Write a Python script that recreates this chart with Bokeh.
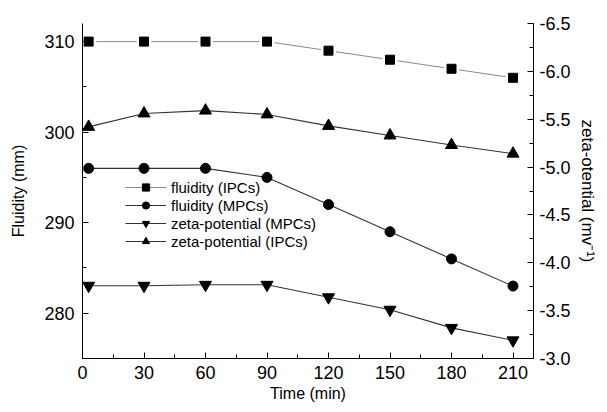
from bokeh.plotting import figure
from bokeh.models import Range1d, LinearAxis, SingleIntervalTicker, PrintfTickFormatter, Legend
from bokeh.embed import file_html
from bokeh.resources import INLINE

# ---- data ----
time_min = [3, 30, 60, 90, 120, 150, 180, 210]
fluidity_ipcs = [310, 310, 310, 310, 309, 308, 307, 306]
fluidity_mpcs = [296, 296, 296, 295, 292, 289, 286, 283]
zeta_mpcs = [-3.76, -3.76, -3.77, -3.77, -3.64, -3.51, -3.32, -3.19]
zeta_ipcs = [-5.42, -5.56, -5.59, -5.55, -5.43, -5.33, -5.23, -5.14]

FONT = "Liberation Sans"

p = figure(width=599, height=404, x_range=Range1d(0, 220), y_range=Range1d(275, 312),
           output_backend="svg", toolbar_location=None,
           min_border_left=82, min_border_right=59, min_border_top=23, min_border_bottom=43)
p.extra_y_ranges = {"zeta": Range1d(start=-3.0, end=-6.5)}
p.grid.visible = False
p.outline_line_color = None
p.background_fill_color = "white"
p.border_fill_color = "white"

def style_axis(ax, standoff, label_standoff, label_size):
    ax.axis_line_color = "black"
    ax.axis_line_width = 1
    ax.major_tick_in = 6
    ax.major_tick_out = 0
    ax.minor_tick_in = 4
    ax.minor_tick_out = 0
    ax.major_tick_line_color = "black"
    ax.minor_tick_line_color = "black"
    ax.major_label_text_font = FONT
    ax.major_label_text_font_size = "18px"
    ax.major_label_text_color = "black"
    ax.major_label_standoff = standoff
    ax.axis_label_text_font = FONT
    ax.axis_label_text_font_size = label_size
    ax.axis_label_text_font_style = "normal"
    ax.axis_label_text_color = "black"
    ax.axis_label_standoff = label_standoff

p.xaxis.ticker = SingleIntervalTicker(interval=30, num_minor_ticks=2)
p.xaxis.axis_label = "Time (min)"
style_axis(p.xaxis[0], 7, 3, "16px")

p.yaxis.ticker = SingleIntervalTicker(interval=10, num_minor_ticks=2)
p.yaxis.axis_label = "Fluidity (mm)"
style_axis(p.yaxis[0], 8, 14, "16px")

right = LinearAxis(y_range_name="zeta", axis_label="zeta-otential (mv\u207b\u00b9)",
                   ticker=SingleIntervalTicker(interval=0.5, num_minor_ticks=2),
                   formatter=PrintfTickFormatter(format="%.1f"))
style_axis(right, 6, 4, "17px")
p.add_layout(right, "right")

dark = "#333333"
l1 = p.line(time_min, fluidity_ipcs, line_color="#8a8a8a", line_width=1)
p.scatter(time_min, fluidity_ipcs, marker="square", size=15, fill_color="white", line_color=None)
m1 = p.scatter(time_min, fluidity_ipcs, marker="square", size=9, fill_color="black", line_color="black")

l2 = p.line(time_min, fluidity_mpcs, line_color=dark, line_width=1.1)
m2 = p.scatter(time_min, fluidity_mpcs, marker="circle", size=10, fill_color="black", line_color="black")

l3 = p.line(time_min, zeta_mpcs, line_color=dark, line_width=1.1, y_range_name="zeta")
m3 = p.scatter(time_min, zeta_mpcs, marker="inverted_triangle", size=12, fill_color="black",
               line_color="black", y_range_name="zeta")

l4 = p.line(time_min, zeta_ipcs, line_color=dark, line_width=1.1, y_range_name="zeta")
m4 = p.scatter(time_min, zeta_ipcs, marker="triangle", size=12, fill_color="black",
               line_color="black", y_range_name="zeta")

legend = Legend(items=[("fluidity (IPCs)", [l1, m1]),
                       ("fluidity (MPCs)", [l2, m2]),
                       ("zeta-potential (MPCs)", [l3, m3]),
                       ("zeta-potential (IPCs)", [l4, m4])],
                location=(43, 108))
legend.padding = 0
legend.margin = 0
legend.spacing = 0
legend.glyph_height = 18
legend.label_height = 18
legend.glyph_width = 41
legend.label_standoff = 5
legend.label_text_font = FONT
legend.label_text_font_size = "15px"
legend.label_text_color = "black"
legend.border_line_color = None
legend.background_fill_alpha = 0
p.add_layout(legend, "center")

open("out.html", "w").write(file_html(p, INLINE))
